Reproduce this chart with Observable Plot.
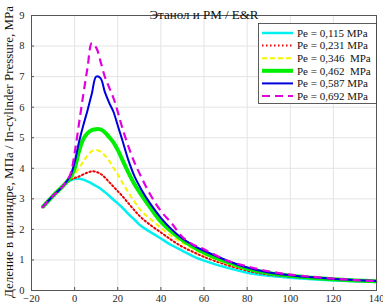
<!DOCTYPE html>
<html><head><meta charset="utf-8">
<script src="https://cdn.jsdelivr.net/npm/d3@7"></script>
<script src="https://cdn.jsdelivr.net/npm/@observablehq/plot@0.6"></script>
<style>
body{margin:0;background:#fff}
svg, svg text, svg g{font-family:"Liberation Serif","Times New Roman",serif !important;}
</style>
</head><body><div id="chart"></div>
<script>
const crankAngle = [-15,-10,-5,-2,0,2,4,6,8,10,12,14,16,18,20,22,25,28,31,35,40,45,50,55,60,70,80,90,100,110,120,130,140];
const pe0115 = [2.72,3.1,3.45,3.6,3.65,3.66,3.63,3.57,3.5,3.42,3.33,3.22,3.1,2.97,2.85,2.72,2.5,2.3,2.1,1.92,1.7,1.48,1.3,1.12,0.98,0.76,0.58,0.48,0.42,0.37,0.33,0.3,0.28];
const pe0231 = [2.72,3.1,3.45,3.62,3.68,3.73,3.8,3.86,3.9,3.88,3.82,3.7,3.55,3.4,3.25,3.1,2.85,2.6,2.38,2.15,1.9,1.65,1.43,1.26,1.1,0.85,0.65,0.52,0.45,0.4,0.35,0.32,0.29];
const pe0346 = [2.72,3.1,3.45,3.64,3.8,4.0,4.22,4.42,4.56,4.6,4.55,4.42,4.25,4.02,3.8,3.55,3.2,2.88,2.6,2.35,2.05,1.78,1.56,1.36,1.18,0.9,0.69,0.55,0.47,0.41,0.36,0.32,0.3];
const pe0462 = [2.72,3.1,3.45,3.7,4.0,4.55,4.95,5.15,5.25,5.28,5.27,5.18,5.02,4.85,4.6,4.3,3.85,3.45,3.12,2.72,2.25,1.92,1.65,1.43,1.24,0.95,0.72,0.57,0.48,0.42,0.37,0.33,0.3];
const pe0587 = [2.72,3.1,3.45,3.75,4.2,4.85,5.4,5.9,6.45,7.0,6.95,6.5,6.15,5.85,5.4,4.95,4.25,3.7,3.3,2.85,2.38,2.0,1.7,1.48,1.3,1.0,0.75,0.59,0.5,0.43,0.38,0.34,0.31];
const pe0692 = [2.72,3.1,3.45,3.8,4.5,5.45,6.4,7.3,8.1,7.95,7.5,7.0,6.65,6.3,5.85,5.35,4.7,4.15,3.7,3.15,2.6,2.2,1.75,1.5,1.35,1.0,0.79,0.63,0.52,0.45,0.39,0.34,0.31];
const seriesValues = [pe0115, pe0231, pe0346, pe0462, pe0587, pe0692];
const seriesLabels = ["Pe = 0,115 MPa","Pe = 0,231 MPa","Pe = 0,346  MPa","Pe = 0,462  MPa","Pe = 0,587 MPa","Pe = 0,692 MPa"];
const xTicks = [-20,0,20,40,60,80,100,120,140];
const yTicks = [0,1,2,3,4,5,6,7,8,9];
const title = "Этанол и PM / E&R";
const yLabel = "Деление в цилиндре, МПа / In-cylinder Pressure, MPa";

const styles = [
  {color:"#00f0f0", width:2.5, dash:null},
  {color:"#ee0000", width:2, dash:"1.5,2.5"},
  {color:"#f5f500", width:2, dash:"5,3"},
  {color:"#00ee00", width:4, dash:null},
  {color:"#0000dd", width:2, dash:null},
  {color:"#e000e0", width:2.2, dash:"8,5"}
];

const W = 383, H = 305, mL = 31, mR = 7, mT = 15, mB = 15;
const serif = "Liberation Serif";

const rows = [];
seriesValues.forEach((vals, i) => vals.forEach((v, j) => rows.push({angle: crankAngle[j], p: v, s: i})));

const lineMarks = styles.map((st, i) => Plot.line(rows.filter(d => d.s === i), {
  x: "angle", y: "p", stroke: st.color, strokeWidth: st.width,
  strokeDasharray: st.dash, curve: "catmull-rom", strokeLinecap: st.dash && st.dash.startsWith("1.5") ? "round" : "butt"
}));

const chart = Plot.plot({
  width: W, height: H,
  marginLeft: mL, marginRight: mR, marginTop: mT, marginBottom: mB,
  style: {fontFamily: serif, fontSize: "10.5px", color: "#262626", background: "#fff"},
  x: {domain: [-20, 140]},
  y: {domain: [0, 9]},
  marks: [
    Plot.gridX(xTicks, {stroke: "#e3e3e3", strokeOpacity: 1}),
    Plot.gridY(yTicks, {stroke: "#e3e3e3", strokeOpacity: 1}),
    ...lineMarks,
    Plot.frame({stroke: "#555"}),
    Plot.tickX(xTicks, {x: d => d, insetTop: H - mT - mB - 3, stroke: "#555"}),
    Plot.tickY(yTicks, {y: d => d, insetRight: W - mL - mR - 3, stroke: "#555"}),
    Plot.axisX({ticks: xTicks, tickSize: 0, tickPadding: 4.5, label: null, fontSize: 10.5, fontFamily: serif}),
    Plot.axisY({ticks: yTicks, tickSize: 0, tickPadding: 7, label: null, fontSize: 10.5, fontFamily: serif}),
    Plot.text([title], {frameAnchor: "top", dy: -6, fontSize: 13, fill: "#111", fontFamily: serif}),
    Plot.text([yLabel], {frameAnchor: "left", textAnchor: "middle", dx: -23, dy: -1, rotate: -90, fontSize: 13, fill: "#111", fontFamily: serif})
  ]
});
document.getElementById("chart").appendChild(chart);

// Legend inside the plot, top right
const svg = d3.select(chart);
const lx = 258, ly = 23, lw = 118, lh = 80, rowH = 12.6;
const g = svg.append("g").attr("font-family", serif).attr("font-size", "11px").attr("text-anchor", "start");
g.append("rect").attr("x", lx + 0.5).attr("y", ly + 0.5).attr("width", lw).attr("height", lh)
  .attr("fill", "#fff").attr("stroke", "#333").attr("stroke-width", 0.8);
seriesLabels.forEach((lab, i) => {
  const st = styles[i];
  const y = ly + 10 + i * rowH;
  g.append("line").attr("x1", lx + 4).attr("x2", lx + 35).attr("y1", y).attr("y2", y)
    .attr("stroke", st.color).attr("stroke-width", st.width).attr("stroke-dasharray", st.dash);
  g.append("text").attr("x", lx + 39).attr("y", y).attr("dy", "0.35em").attr("text-anchor", "start")
    .attr("fill", "#111").style("white-space", "pre").text(lab);
});
</script>
</body></html>
